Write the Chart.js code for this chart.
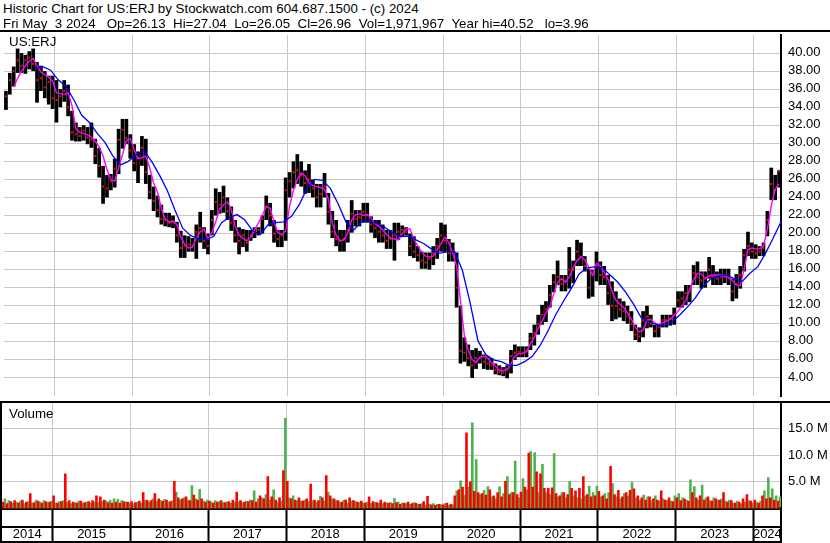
<!DOCTYPE html>
<html><head><meta charset="utf-8">
<script src="https://cdn.jsdelivr.net/npm/chart.js@4.4.1/dist/chart.umd.min.js"></script>
<style>
html,body{margin:0;padding:0;background:#fff;}
#wrap{position:relative;width:830px;height:543px;overflow:hidden;background:#fff;font-family:"Liberation Sans",Arial,sans-serif;}
.txt{position:absolute;white-space:pre;color:#000;font-size:13.33px;line-height:15px;}
.ln{position:absolute;background:#000;}
canvas{position:absolute;left:0;}
</style></head><body>
<div id="wrap">
<canvas id="pc" width="830" height="369" style="top:31px"></canvas>
<canvas id="vc" width="830" height="142" style="top:401px"></canvas>
<div class="txt" style="left:3px;top:0.5px">Historic Chart for US:ERJ by Stockwatch.com 604.687.1500 - (c) 2024</div>
<div class="txt" style="left:3px;top:15.5px">Fri May  3 2024   Op=26.13  Hi=27.04  Lo=26.05  Cl=26.96  Vol=1,971,967  Year hi=40.52   lo=3.96</div>
<div class="txt" style="left:9px;top:33.5px">US:ERJ</div>
<div class="txt" style="left:9px;top:406px">Volume</div>
<div class="ln" style="left:0;top:29.5px;width:830px;height:2px"></div>
<div class="ln" style="left:0;top:401px;width:830px;height:2px"></div>
<div class="ln" style="left:0;top:401px;width:2px;height:142px"></div>
<div class="ln" style="left:0;top:526px;width:782px;height:2px"></div>
<div class="ln" style="left:0;top:541px;width:782px;height:2px"></div>
<div class="ln" style="left:780px;top:507px;width:2px;height:36px"></div>
</div>
<script>
// ---- time frame (years) ----
const startYear = 2014.35;
const endYear = 2024.35;
const binYears = 0.05;      // one bar per ~2.6 weeks
const maLongStep = 0.1;

// ---- tick labels ----
const yearLabels = ['2014','2015','2016','2017','2018','2019','2020','2021','2022','2023','2024'];
const priceTicks = [4,6,8,10,12,14,16,18,20,22,24,26,28,30,32,34,36,38,40];
const volTicks = [5,10,15];

// ---- price series (US$) ----
const highs = [
35.8,37.8,38.5,40.5,40,39.8,40.2,40.5,39,38.6,
38,37.5,37.5,37,36,37,36.5,33.6,32.3,31.8,
32,31.8,32.3,30.5,29.5,27.5,26.5,26.6,28.3,31.6,
32.7,32.7,31,29.9,29.1,30.8,30.5,26.5,25.2,24.2,
23.2,22.3,22.3,22,21.3,20.3,19.8,19.7,19.5,21,
22.4,20.7,20,22.6,25,24.6,25.3,24,23,21.5,
20.7,20.5,20.4,20.4,20.7,20.7,22,24.2,23.4,21.5,
20.4,20.4,26.2,26.8,28,28.8,28,27,27.7,26,
25.5,25.5,26.7,24.5,22.5,21.5,20.4,20.4,21.5,23.7,
22.6,22.6,23.4,23.4,21.9,21.5,21.5,21,20.4,20.4,
21.2,21.2,20.9,20.7,20,19.7,18.6,18,17.9,17.9,
18.6,19.5,21.2,21,19.4,19,17.9,12,8.5,7.7,
7.1,7.3,7,6.6,6.4,6.2,5.6,5.4,5.2,5.4,
7.1,7.7,7.5,7.5,7.5,9,9.9,11,12.1,12.5,
14.3,15.5,17,15.4,15.4,18.5,17,19.3,19,17.5,
16.1,16,18,16.9,16.4,15.4,14.7,13.6,12.8,12.5,
12,11.4,9.9,9.6,11.4,12,11,9.9,9.9,11,
11,11,11.8,13.6,13.6,14.3,14.3,16.5,16.9,15.8,
15.8,17.4,16.5,15.8,16.1,16.1,16.1,15,15.5,16.4,
18.3,20.2,19,18.8,18.6,19,22.5,27.3,26.5,27];
const lows = [
33.7,35.4,36.3,37.8,37.8,37.7,38.2,38,34.5,35.8,
35,34.3,33.8,32.3,34,34.6,33,30.3,30.2,30.2,
30.3,29.9,29.5,27.7,26.2,23.3,24,24.8,25.1,26.6,
29.4,29.9,28.3,26.9,25.6,27.5,25.5,23.8,22.5,21.8,
21,20.8,20.7,20.6,19,17.3,17.3,18,18,17.2,
19,18.3,17.7,19.8,22,22.2,22.3,21.5,20.3,19,
17.7,18.5,18,19.2,19.5,19.8,20,21.5,20.8,19,
18.5,18.5,19.2,24,25,25.5,25.2,24.4,24.5,24,
22.9,22.9,24,21,19.5,18.6,18,18,19,20.1,
20.8,20.8,21.2,21.2,20.1,19.5,19,19,18.3,18.3,
17,19.3,19.6,19.8,17.5,17.3,16.9,16.1,16.1,16,
16.5,17.2,18,17.9,16.9,16.9,11.8,5.6,5.8,5.3,
4,5,5.6,5,4.9,4.9,4.4,4.3,4.2,3.96,
4.5,6,6.3,6.3,6.3,7.1,7.6,8.8,9.9,10.2,
11.8,13.5,14.3,13.6,13.6,13.9,14.5,16.4,16.4,15.8,
12.8,13,14.7,14.3,14.3,12.1,10.3,10.5,10.7,10.3,
10,9.2,8.2,7.96,8.5,9.5,9.6,8.5,8.5,9.6,
9.6,9.8,9.9,11.8,11.8,12.1,12.4,14.3,14.3,13.9,
14,15,14.3,14.3,14.3,14.5,14.3,12.5,12.8,13.9,
15.8,17.5,17.2,17.2,17.5,17.5,19.7,23.7,23.7,25.1];
const closes = [
35.2,37,38,39.2,38.6,39.2,39.5,38.8,37,37.2,
36.2,36.8,35,34.8,35.2,35.8,34,31.2,31,30.8,
31.4,30.6,30.4,28.6,27.5,25.2,25,25.8,27.2,30.4,
31.5,30.6,29.2,27.8,28.4,29.5,26.8,24.6,23.6,22.6,
21.6,21.5,21.2,21.4,19.8,18.4,18.6,18.8,18.6,20.2,
20.6,19.2,18.6,21.5,23.5,23.2,24,22.5,21.2,19.8,
19.2,19.8,19,19.8,20.2,20.4,21.6,23,22,20,
19.4,19.8,24.8,25.8,26.8,27,26.4,25.6,26,25,
24,24.4,25.2,22.4,20.2,19.4,19.2,19.4,20.4,22.2,
21.6,21.8,22.4,22,21,20.6,20.2,19.8,19.2,19.4,
19.8,20.2,20.4,20.2,18.6,18,17.6,17,16.8,17.2,
17.8,18.6,19.8,19.2,17.8,18,14,7,6.8,6.2,
5.4,6.2,6.2,5.8,5.6,5.4,4.9,4.7,4.6,5,
6.4,6.8,6.9,6.8,7,8.4,9,10,11,11.6,
13.2,14.6,15.2,14.4,14.8,16,16,18,17.4,16.4,
14,15.4,16.4,15.4,15.2,13.4,12,12,11.6,11.4,
10.8,10,8.8,8.6,10.4,10.8,10,9.2,9.6,10.4,
10.4,10.6,11,12.6,12.8,13.4,13.6,15.6,15.2,14.8,
15,16,15.2,15,15.2,15.4,15,13.6,14.4,15.4,
17.6,18.6,18,17.8,18,18.4,21.5,25.5,24.8,26.96];
// short moving average (magenta), same time bins as the bars
const maShort = [
null,null,36.2,37.2,38,38.6,39.1,39.4,38.6,37.9,
37.6,37.3,36.9,35.6,35.5,35.4,35.6,34.2,31.6,31.2,
31.1,30.9,30.7,30.2,29.6,28.6,27.1,26,25.8,27.3,
28.7,30.3,30.5,29.3,28.3,28.4,28.6,27.3,25.6,24.6,
22.8,21.6,21.3,21.3,21,19.6,18.8,18.4,18.5,19.5,
20.2,20.5,19.4,20.1,21.3,22.7,23.2,23.5,22.7,20.8,
19.8,19.5,19.2,19.6,20.4,21.2,22,23,22.8,21.3,
20.1,19.9,20.3,23,24.8,26,26.7,26.4,25.6,25.3,
25.2,25.1,24.9,23.8,21.2,19.8,19.2,19.3,20.1,21.5,
22.1,22.2,22,22.1,21.7,21.1,20.8,20.4,19.9,19.5,
19.4,19.3,20,20.5,20.5,19.4,18.6,18,17.5,17.4,
17.5,18.2,18.9,19.6,19,17.8,16.4,12.5,8.7,7.1,
6,5.7,6.3,6.4,6.2,5.7,5.3,4.85,4.8,4.9,
5.6,6.4,6.7,6.7,6.9,7.8,8.5,9.5,10.3,11.2,
11.9,13.3,14.6,15,14.6,15.2,16.2,17,17.4,17.1,
16.3,15.4,16.7,16.4,15.7,14.9,13.6,12.6,12.2,11.8,
11.2,10.5,9.6,9.1,9.3,10.4,10.5,10.1,9.9,10.1,
10.3,10.5,10.9,11.4,12,12.6,13.8,14.9,15.6,15.5,
15,15.3,15.4,15.4,15.4,15.2,15.2,14.8,14.3,14.2,
16,18.2,18.4,18.3,18.3,18.6,20.5,23.1,24.9,25.5];
// long moving average (blue), one value every 0.1 year from startYear
const maLong = [
null,null,null,null,38.3,38.5,38.1,37,36.3,34.8,
33.1,32.3,31.1,30.1,28.6,27.6,28,28.7,29.2,28,
26.5,24.8,22.6,20.6,19.8,19.4,19.3,19.7,21.2,21.8,
22.1,21.5,20.3,19.9,21,21.2,21.3,21.9,23.2,25,
26,25.9,25,23.3,21.3,20.4,21.3,21.4,21.1,20.7,
20.1,19.7,19.7,19.3,18.9,18.3,17.8,18,18,15.9,
12.3,8.1,6.6,6,5.8,5.4,5.4,5.8,6.4,7.6,
9.2,11,12.5,13.9,15.5,16.2,16.3,16.2,15.4,14.6,
13.5,12.2,10.7,10.2,9.9,9.8,10.2,11,11.9,12.9,
14.2,15,15.3,15.4,15,14.7,15.6,16.3,17.8,19.5,
21.3];

// ---- volume (millions), down-day and up-day per bin ----
const volDown = [
1.2,0.9,1.3,1.5,1.0,1.6,1.2,2.8,1.1,1.4,
1.0,1.3,1.2,2.4,1.0,1.3,6.5,1.5,1.2,1.0,
1.4,1.1,1.3,1.5,2.4,2.2,1.6,1.1,1.0,1.2,
1.0,1.3,1.2,1.3,1.1,1.4,3.0,1.6,1.5,2.8,
1.8,1.4,1.6,1.3,5.1,2.0,1.8,2.2,1.5,2.5,
1.6,1.8,1.2,1.4,1.0,1.2,1.5,1.1,1.3,1.6,
3.1,1.5,1.2,1.3,1.5,1.2,2.4,1.8,6.0,2.2,
1.6,2.0,7.1,5.1,1.8,1.6,2.0,1.4,1.8,4.6,
1.6,1.5,2.0,6.2,2.4,1.8,1.5,1.2,1.6,2.0,
1.5,1.2,1.4,1.0,2.2,1.3,1.1,1.6,1.2,1.0,
0.9,1.1,0.8,1.0,1.2,0.9,1.0,0.8,1.3,2.3,
0.7,0.6,0.8,0.7,1.0,0.8,2.4,3.5,4.0,14.2,
5.0,3.2,3.0,2.8,2.5,3.5,2.4,3.0,2.2,5.1,
2.6,3.0,2.6,3.1,4.0,10.4,4.0,6.9,6.5,3.8,
3.8,3.9,2.8,2.4,3.0,2.6,3.8,3.3,3.8,6.0,
2.6,2.2,2.4,3.2,2.4,1.8,7.9,2.6,3.4,2.2,
3.0,3.4,3.7,2.4,2.0,1.6,2.2,1.8,1.6,3.3,
1.6,2.0,1.3,2.0,1.5,1.8,1.4,3.0,2.0,2.4,
1.6,2.2,1.4,1.8,1.6,3.0,1.2,1.5,1.0,1.2,
1.8,2.6,1.4,1.6,1.0,2.4,1.8,2.0,1.6,1.4];
const volUp = [
1.8,1.5,1.0,1.2,1.4,0.9,1.3,1.0,1.6,1.2,
1.5,1.1,1.4,1.0,1.3,1.5,1.2,0.9,1.1,1.4,
1.0,1.2,1.0,1.2,1.1,1.3,1.4,1.6,1.8,1.7,
1.5,1.2,1.0,0.9,1.2,1.0,1.5,1.2,1.8,1.4,
1.5,1.7,1.2,1.5,3.1,1.6,2.0,1.6,4.3,1.8,
3.6,1.4,1.6,1.2,1.5,1.3,1.1,1.2,1.0,1.2,
1.3,1.1,1.4,1.6,3.3,1.8,2.0,2.6,1.6,3.5,
1.2,1.4,16.9,2.0,2.4,1.5,1.4,1.6,1.3,1.5,
1.2,2.3,1.4,3.1,1.8,1.5,1.2,1.6,1.0,1.4,
1.3,1.1,1.0,1.2,0.9,1.1,1.0,0.9,1.0,1.1,
1.9,1.2,1.0,0.9,0.8,1.1,0.8,0.9,0.7,0.8,
0.9,0.8,0.7,0.9,0.6,0.7,3.3,5.2,2.5,4.0,
16.1,9.2,2.6,3.4,4.1,2.2,1.8,4.1,2.8,6.0,
3.0,8.9,2.0,5.6,3.5,10.7,10.5,3.0,8.3,3.0,
2.6,10.3,2.2,3.0,2.0,5.1,2.4,2.0,1.8,2.4,
4.2,3.0,4.2,2.2,2.8,3.0,4.7,2.2,1.8,2.8,
2.4,4.9,2.0,1.6,2.5,2.2,1.5,2.4,1.4,1.8,
1.5,1.4,2.4,2.8,2.0,1.6,5.4,4.1,1.6,4.4,
2.0,1.5,2.0,1.6,1.8,1.4,1.6,1.0,1.4,0.9,
1.2,1.5,1.0,1.2,1.4,3.3,5.8,3.7,2.4,2.2];

// ---- build library tables ----
const binT = i => startYear + (i + 0.5) * binYears;
const rangePts = highs.map((h, i) => ({x: binT(i), y: [lows[i], h]}));
const closePts = closes.map((c, i) => ({x: binT(i), y: c}));
const maShortPts = maShort.map((v, i) => ({x: binT(i), y: v}));
const maLongPts = maLong.map((v, j) => ({x: startYear + j * maLongStep, y: v}));
const volDownPts = volDown.map((v, i) => ({x: binT(i), y: v}));
const volUpPts = volUp.map((v, i) => ({x: binT(i), y: v}));
const yearBounds = yearLabels.slice(1).map(Number);
const yearMids = yearLabels.map(y => ({value: (Math.max(startYear, +y) + Math.min(endYear, +y + 1)) / 2, label: y}));

const FONT = "'Liberation Sans', Arial, sans-serif";
Chart.defaults.font.family = FONT;
Chart.defaults.font.size = 13;
Chart.defaults.color = '#000';
const GRID = '#c8c8c8';
const CLEAR = 'rgba(0,0,0,0)';
const noPad = s => { s.paddingTop = 0; s.paddingBottom = 0; s.paddingLeft = 0; s.paddingRight = 0; };

new Chart(document.getElementById('pc'), {
  type: 'bar',
  data: {datasets: [
    {type: 'line', data: maLongPts, borderColor: '#0000ff', borderWidth: 1.3, pointRadius: 0, order: 1},
    {type: 'line', data: maShortPts, borderColor: '#ff00ff', borderWidth: 1.4, pointRadius: 0, order: 2},
    {type: 'line', data: closePts, showLine: false, pointStyle: 'rect', pointRadius: 1.4,
     pointBackgroundColor: '#ff0000', pointBorderColor: '#ff0000', pointBorderWidth: 0, order: 3},
    {type: 'bar', data: rangePts, backgroundColor: '#000', borderWidth: 0,
     barPercentage: 0.95, categoryPercentage: 1, order: 4}
  ]},
  options: {
    responsive: false, animation: false, devicePixelRatio: 1,
    layout: {padding: {left: 2, right: 0, top: 0, bottom: 0}},
    plugins: {legend: {display: false}, tooltip: {enabled: false}},
    scales: {
      x: {type: 'linear', min: startYear, max: endYear, offset: false,
          grid: {color: GRID, lineWidth: 1, drawTicks: false, offset: false}, border: {display: false},
          ticks: {display: false},
          afterBuildTicks: s => { s.ticks = yearBounds.map(v => ({value: v})); },
          afterFit: s => { s.height = 0; noPad(s); }},
      y: {position: 'right', min: 2, max: 42,
          grid: {color: GRID, lineWidth: 1, drawTicks: false},
          border: {color: '#000', width: 2},
          ticks: {padding: 7, labelOffset: -1, callback: v => Number(v).toFixed(2), font: {size: 13}},
          afterBuildTicks: s => { s.ticks = priceTicks.map(v => ({value: v})); },
          afterFit: s => { s.width = 49; noPad(s); }}
    }
  }
});

const midSet = new Map(yearMids.map(m => [m.value, m.label]));
new Chart(document.getElementById('vc'), {
  type: 'bar',
  data: {datasets: [
    {data: volDownPts, backgroundColor: '#ff0000', borderWidth: 0, barPercentage: 1, categoryPercentage: 1},
    {data: volUpPts, backgroundColor: '#4db34d', borderWidth: 0, barPercentage: 1, categoryPercentage: 1}
  ]},
  options: {
    responsive: false, animation: false, devicePixelRatio: 1,
    layout: {padding: {left: 2, right: 0, top: 2, bottom: 0}},
    plugins: {legend: {display: false}, tooltip: {enabled: false}},
    scales: {
      x: {type: 'linear', min: startYear, max: endYear, offset: false,
          grid: {
            offset: false,
            color: c => midSet.has(c.tick && c.tick.value) ? CLEAR : GRID,
            tickColor: c => midSet.has(c.tick && c.tick.value) ? CLEAR : '#000',
            lineWidth: 1, tickWidth: 2, tickLength: 34.5, drawTicks: true},
          border: {color: '#000', width: 2},
          ticks: {autoSkip: false, maxRotation: 0, padding: -16.5, font: {size: 13},
                  callback: v => midSet.has(v) ? midSet.get(v) : ''},
          afterBuildTicks: s => {
            const t = yearBounds.map(v => ({value: v})).concat(yearMids.map(m => ({value: m.value})));
            t.sort((a, b) => a.value - b.value);
            s.ticks = t;
          },
          afterFit: s => { s.height = 34.5; noPad(s); }},
      y: {position: 'right', min: 0, max: 19.8,
          grid: {color: GRID, lineWidth: 1, drawTicks: false},
          border: {color: '#000', width: 2},
          ticks: {padding: 7, font: {size: 13}, callback: v => Number(v).toFixed(1) + ' M'},
          afterBuildTicks: s => { s.ticks = volTicks.map(v => ({value: v})); },
          afterFit: s => { s.width = 49; noPad(s); }}
    }
  }
});
</script>
</body></html>
